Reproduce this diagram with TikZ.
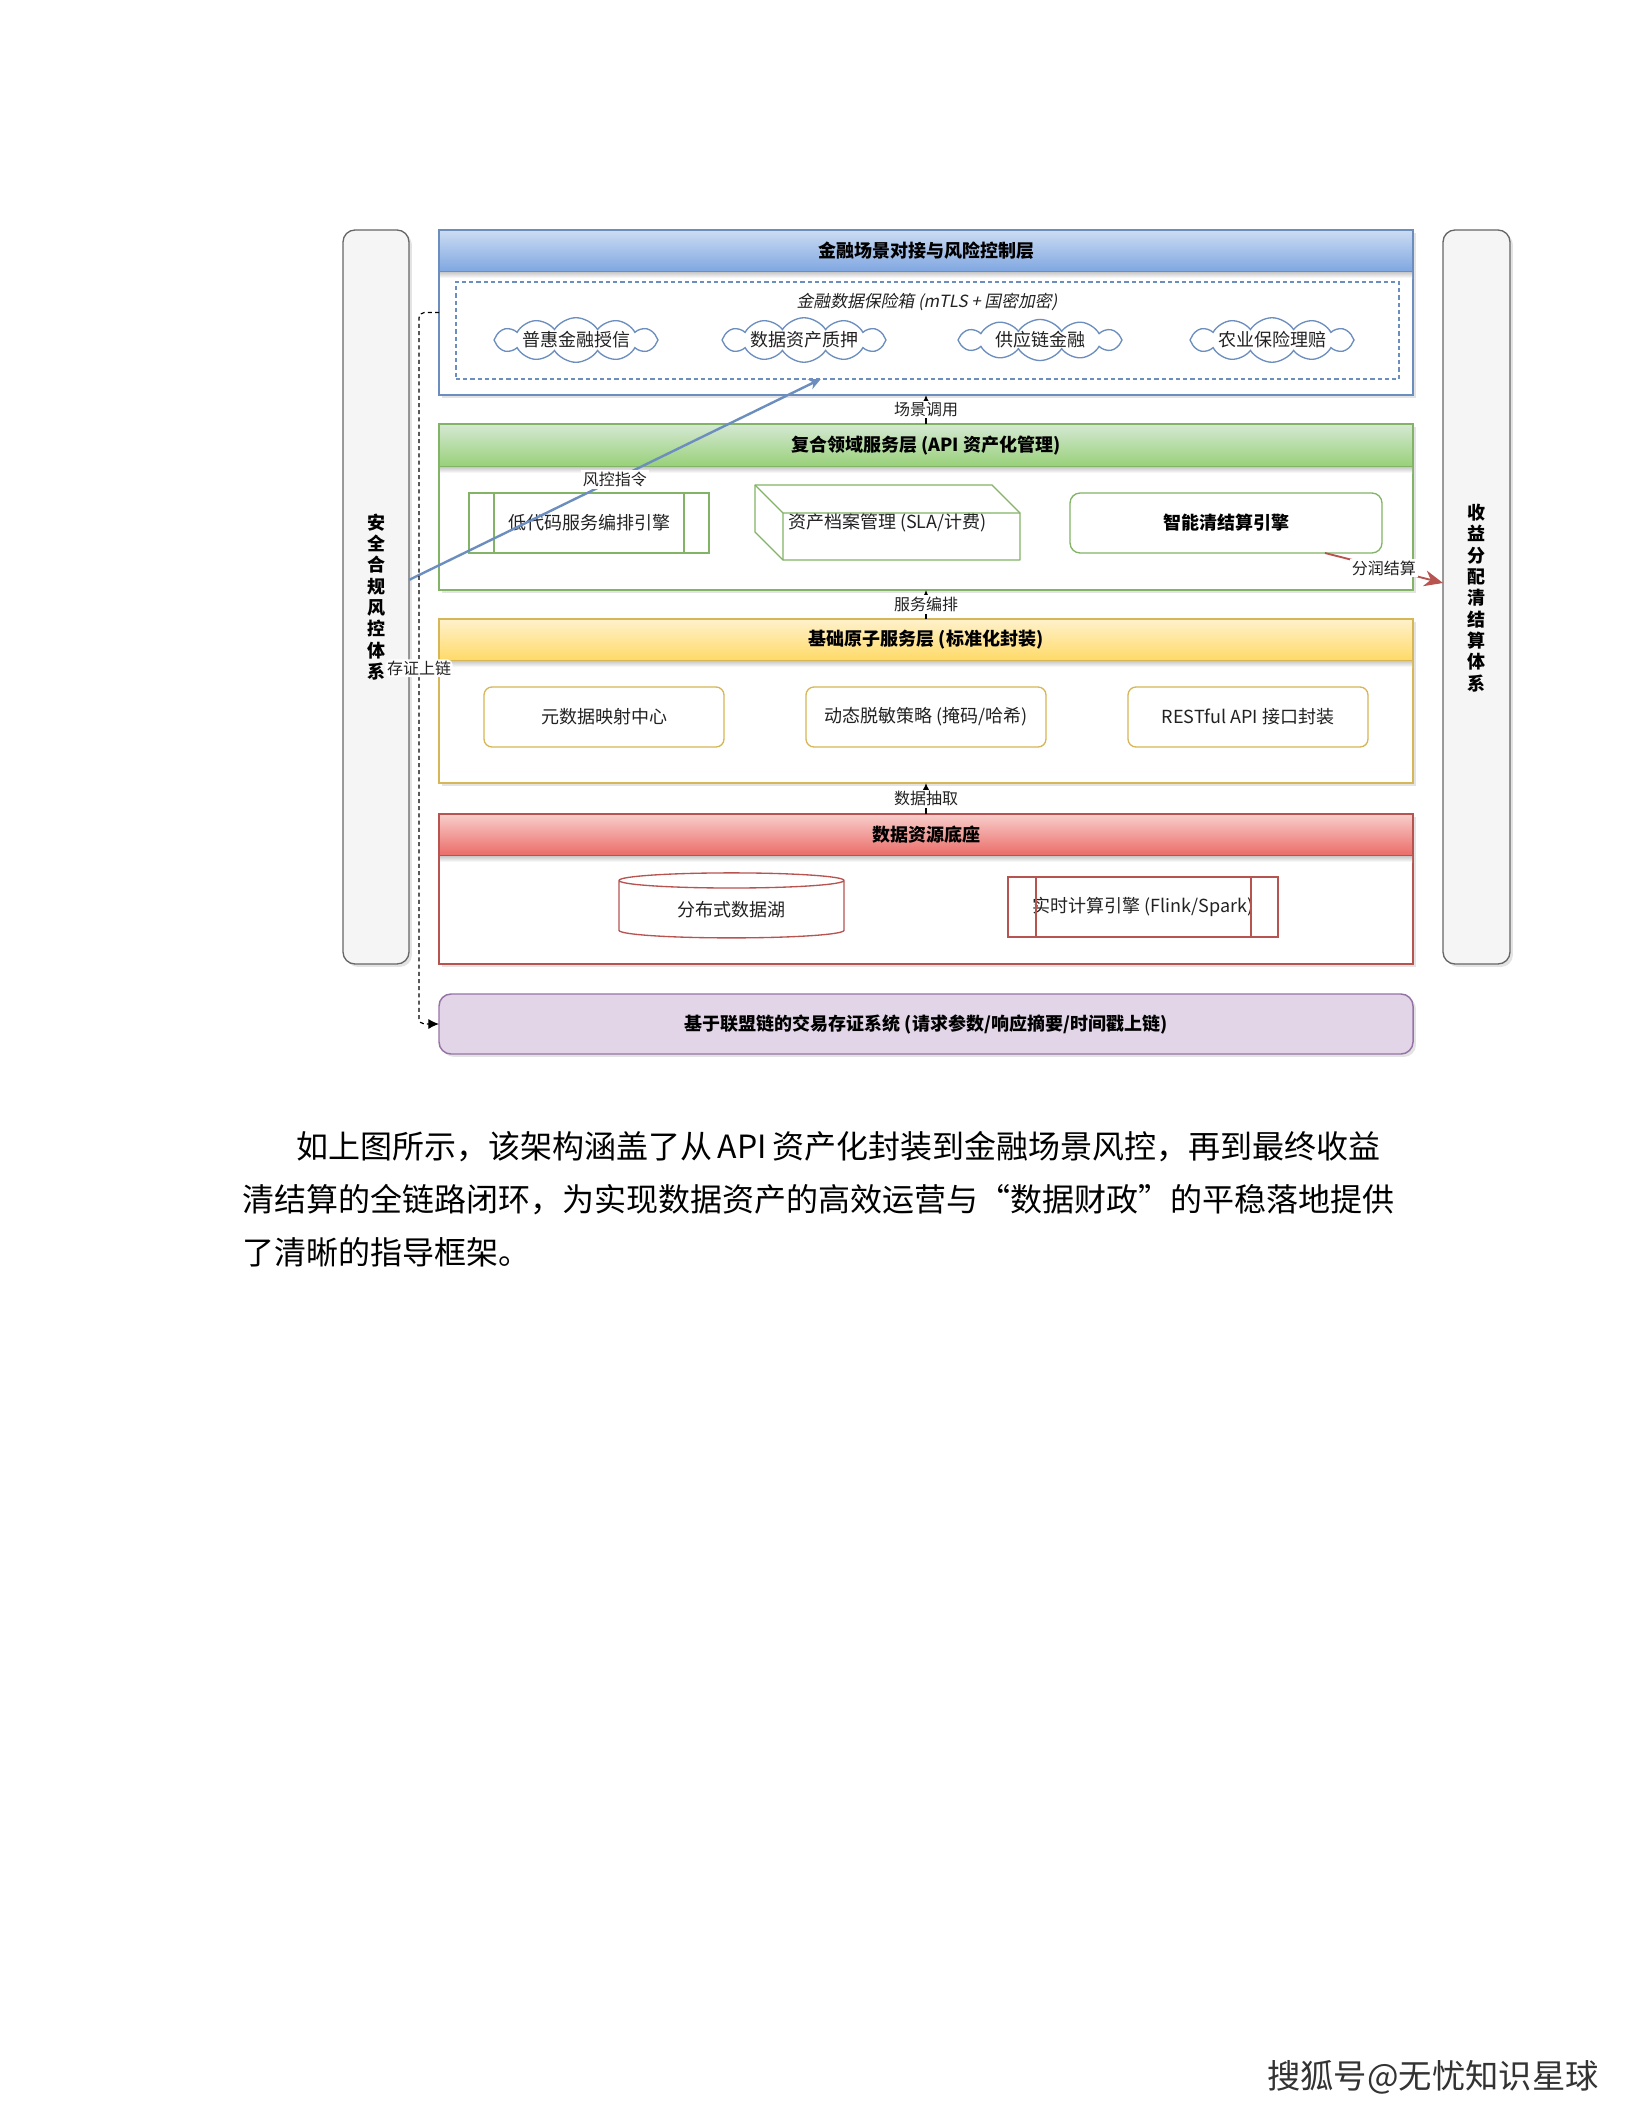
\documentclass[tikz,border=0pt]{standalone}
\usepackage{fontspec}
\setmainfont{Noto Sans CJK SC}
\newfontfamily\slantcjk{Noto Sans CJK SC}[FakeSlant=0.2]
\usetikzlibrary{shapes.geometric,shapes.symbols,arrows.meta,shadows,calc}
\definecolor{bS}{HTML}{6C8EBF}
\definecolor{bT}{HTML}{CCDCF3}
\definecolor{bB}{HTML}{7EA6E0}
\definecolor{gS}{HTML}{82B366}
\definecolor{gT}{HTML}{D5E8D4}
\definecolor{gB}{HTML}{97D077}
\definecolor{yS}{HTML}{D6B656}
\definecolor{yT}{HTML}{FFF2CC}
\definecolor{yB}{HTML}{FFD966}
\definecolor{rS}{HTML}{B85450}
\definecolor{rT}{HTML}{F8CECC}
\definecolor{rB}{HTML}{EA6B66}
\definecolor{pS}{HTML}{9673A6}
\definecolor{pF}{HTML}{E1D5E7}
\definecolor{barS}{HTML}{666666}
\definecolor{barF}{HTML}{F5F5F5}
\definecolor{txt}{HTML}{222222}
\begin{document}
\begin{tikzpicture}[x=0.375pt,y=-0.375pt,
  sz/.style 2 args={minimum width=#1*0.375pt, minimum height=#2*0.375pt},
  box/.style={inner sep=0pt, outer sep=0pt},
  f/.style={font=\fontsize{6.75pt}{8pt}\selectfont, text=txt},
  fb/.style={font=\fontsize{6.75pt}{8pt}\selectfont\bfseries, text=black},
  lab/.style={fill=white, inner sep=0.6pt, font=\fontsize{6pt}{7pt}\selectfont, text=txt},
  shad/.style={drop shadow={opacity=0.22, shadow xshift=1.1pt, shadow yshift=-1.1pt}},
  layer/.style={box, draw=#1, fill=white, line width=0.55pt, shad},
  head/.style n args={3}{box, draw=#1, top color=#2, bottom color=#3, line width=0.55pt, fb},
  bar/.style={box, draw=barS, fill=barF, rounded corners=4.5pt, line width=0.5pt, shad},
  stepArrow/.style={line width=0.45pt, -{Latex[length=2.6pt,width=2.4pt]}},
  inbox/.style={box, draw=#1, line width=0.5pt, f},
  para/.style={anchor=west, inner sep=0pt, font=\fontsize{12pt}{14pt}\selectfont, text=black}
]
\fill[white] (0,0) rectangle (1632,2112);
\useasboundingbox (0,0) rectangle (1632,2112);

% side bars
\node[bar, sz={66}{734}] (lbar) at (376,597) {};
\node[bar, sz={67}{734}] (rbar) at (1476.5,597) {};
\node[fb, align=center] (lbarT) at (376,597) {安\\全\\合\\规\\风\\控\\体\\系};
\node[fb, align=center] (rbarT) at (1476.5,598) {收\\益\\分\\配\\清\\结\\算\\体\\系};

% layer 1 (blue)
\node[layer=bS, sz={974}{165}] (blue) at (926,312.5) {};
\node[head={bS}{bT}{bB}, sz={974}{42}] (blueH) at (926,251) {金融场景对接与风险控制层};
\shade[top color=black!20, bottom color=white] ($(blueH.south west)+(1,0.5)$) rectangle ($(blueH.south east)+(-1,6)$);
\node[box, draw=bS, dash pattern=on 1.6pt off 1.1pt, line width=0.5pt, sz={943}{97}] (vault) at (927.5,330.5) {};
\node[font=\fontsize{6.3pt}{7.5pt}\slantcjk, text=txt] (vaultT) at (927,302) {金融数据保险箱 (mTLS + 国密加密)};
\tikzset{cl/.style={cloud, cloud puffs=12, cloud puff arc=115, cloud ignores aspect, draw=bS, line width=0.5pt, fill=white, inner sep=0pt, sz={164}{36}, f}}
\node[cl] (c1) at (576,340) {普惠金融授信};
\node[cl] (c2) at (804,340) {数据资产质押};
\node[cl] (c3) at (1040,340) {供应链金融};
\node[cl] (c4) at (1272,340) {农业保险理赔};

% layer 2 (green)
\node[layer=gS, sz={974}{166}] (green) at (926,507) {};
\node[head={gS}{gT}{gB}, sz={974}{43}] (greenH) at (926,445.5) {复合领域服务层 (API 资产化管理)};
\shade[top color=black!20, bottom color=white] ($(greenH.south west)+(1,0.5)$) rectangle ($(greenH.south east)+(-1,6)$);
\node[inbox=gS, sz={240}{60}] (lowcode) at (589,523) {低代码服务编排引擎};
\draw[gS, line width=0.5pt] ($(lowcode.north west)+(25,0)$) -- ($(lowcode.south west)+(25,0)$)
  ($(lowcode.north east)+(-25,0)$) -- ($(lowcode.south east)+(-25,0)$);
\node[box, sz={265}{75}, f] (arch) at (887.5,522.5) {资产档案管理 (SLA/计费)};
\draw[gS, line width=0.5pt, line join=round] (arch.north west) -- ($(arch.north east)+(-28,0)$) -- ($(arch.north east)+(0,28)$) -- (arch.south east) -- ($(arch.south west)+(28,0)$) -- ($(arch.south west)+(0,-28)$) -- cycle;
\draw[gS, line width=0.5pt] (arch.north west) -- ($(arch.north west)+(28,28)$) -- ($(arch.north east)+(0,28)$)
  ($(arch.north west)+(28,28)$) -- ($(arch.south west)+(28,0)$);
\node[inbox=gS, rounded corners=3.8pt, sz={312}{60}, fb] (settle) at (1226,523) {智能清结算引擎};

% layer 3 (yellow)
\node[layer=yS, sz={974}{164}] (yellow) at (926,701) {};
\node[head={yS}{yT}{yB}, sz={974}{42}] (yellowH) at (926,640) {基础原子服务层 (标准化封装)};
\shade[top color=black!20, bottom color=white] ($(yellowH.south west)+(1,0.5)$) rectangle ($(yellowH.south east)+(-1,6)$);
\node[inbox=yS, rounded corners=3pt, sz={240}{60}] (meta) at (604,717) {元数据映射中心};
\node[inbox=yS, rounded corners=3pt, sz={240}{60}] (mask) at (926,717) {动态脱敏策略 (掩码/哈希)};
\node[inbox=yS, rounded corners=3pt, sz={240}{60}] (rest) at (1248,717) {RESTful API 接口封装};

% layer 4 (red)
\node[layer=rS, sz={974}{150}] (red) at (926,889) {};
\node[head={rS}{rT}{rB}, sz={974}{42}] (redH) at (926,835) {数据资源底座};
\shade[top color=black!20, bottom color=white] ($(redH.south west)+(1,0.5)$) rectangle ($(redH.south east)+(-1,6)$);
\node[cylinder, shape border rotate=90, aspect=0.14, draw=rS, line width=0.5pt, inner sep=0pt, outer sep=0pt, sz={225}{65}, f] (lake) at (731.5,909.5) {分布式数据湖};
\node[inbox=rS, sz={270}{60}] (flink) at (1143,907) {实时计算引擎 (Flink/Spark)};
\draw[rS, line width=0.5pt] ($(flink.north west)+(28,0)$) -- ($(flink.south west)+(28,0)$)
  ($(flink.north east)+(-27,0)$) -- ($(flink.south east)+(-27,0)$);

% blockchain evidence box
\node[box, draw=pS, fill=pF, rounded corners=4.5pt, line width=0.55pt, shad, sz={974}{60}, fb] (purple) at (926,1024) {基于联盟链的交易存证系统 (请求参数/响应摘要/时间戳上链)};

% inter-layer arrows
\draw[stepArrow] (green.north) -- node[lab]{场景调用} (blue.south);
\draw[stepArrow] (yellow.north) -- node[lab]{服务编排} (green.south);
\draw[stepArrow] (red.north) -- node[lab]{数据抽取} (yellow.south);

% risk control instruction
\draw[bS, line width=0.9pt, -{Stealth[length=4.5pt,width=4pt]}] ([yshift=6.4pt]lbar.east) -- node[lab, pos=0.5]{风控指令} ([xshift=-40pt]vault.south);

% profit sharing
\draw[rS, line width=0.7pt, -{Stealth[length=7pt,width=6pt]}] ([xshift=37.1pt]settle.south) -- node[lab, pos=0.5]{分润结算} ([yshift=5.25pt]rbar.west);

% evidence on chain
\draw[black, line width=0.45pt, dash pattern=on 1.5pt off 1.2pt, rounded corners=2pt, -{Latex[length=4pt,width=3.8pt]}] (blue.west) -- ++(-20,0) |- node[lab, pos=0.25]{存证上链} (purple.west);

% paragraph
\node[para] (p1) at (296,1147) {如上图所示，该架构涵盖了从\,API\,资产化封装到金融场景风控，再到最终收益};
\node[para] (p2) at (242,1200) {清结算的全链路闭环，为实现数据资产的高效运营与“数据财政”的平稳落地提供};
\node[para] (p3) at (242,1252) {了清晰的指导框架。};

% footer
\node[font=\fontsize{12.5pt}{14pt}\selectfont, text=black!80] (footer) at (1433,2077) {搜狐号@无忧知识星球};
\end{tikzpicture}
\end{document}
